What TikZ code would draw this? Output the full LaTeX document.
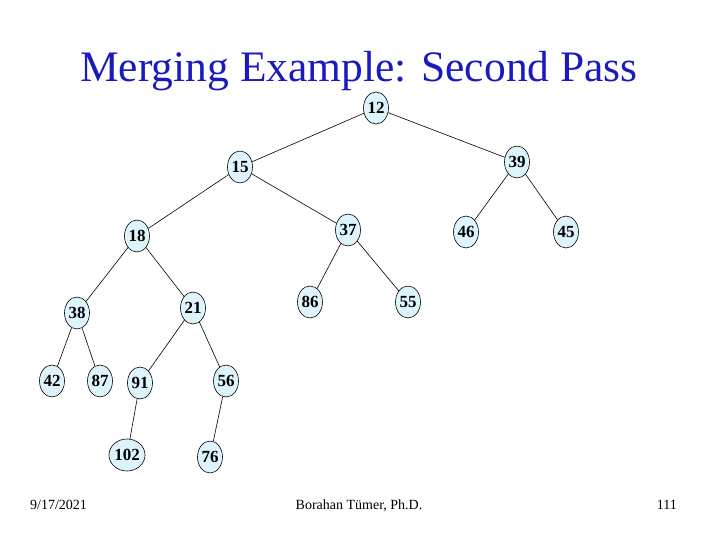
\documentclass[tikz,border=0pt]{standalone}
\usepackage{fontspec}
\setmainfont{Liberation Serif}
\usetikzlibrary{shapes.geometric}
\definecolor{titleblue}{RGB}{26,26,190}
\definecolor{nodefill}{RGB}{222,244,252}
\begin{document}
\begin{tikzpicture}[x=1pt,y=-1pt,
  hn/.style={ellipse,draw=black,fill=nodefill,line width=0.6pt,minimum width=25pt,minimum height=32pt,inner sep=0pt,font=\bfseries\fontsize{17}{17}\selectfont},
  ed/.style={draw=black,line width=0.6pt},
  foot/.style={font=\fontsize{14}{14}\selectfont,anchor=base,inner sep=0pt}]
\useasboundingbox (0,0) rectangle (720,540);
\node[font=\fontsize{43.5}{43.5}\selectfont,text=titleblue] (title) at (359,71) {Merging Example: Second Pass};
\node[hn] (n12) at (376,108) {12};
\node[hn] (n39) at (517,162) {39};
\node[hn] (n15) at (240,167) {15};
\node[hn] (n37) at (348,230) {37};
\node[hn] (n46) at (466,232) {46};
\node[hn] (n45) at (566,232) {45};
\node[hn] (n18) at (137,236) {18};
\node[hn] (n86) at (310,302) {86};
\node[hn] (n55) at (408,302) {55};
\node[hn] (n21) at (193,308) {21};
\node[hn] (n38) at (77,313) {38};
\node[hn] (n42) at (52,381) {42};
\node[hn] (n87) at (100,381) {87};
\node[hn] (n91) at (140,383) {91};
\node[hn] (n56) at (226,381) {56};
\node[hn] (n102) at (127,455) {102};
\node[hn] (n76) at (210,457) {76};
\foreach \a/\b in {n12/n15,n12/n39,n39/n46,n39/n45,n15/n18,n15/n37,n37/n86,n37/n55,n18/n38,n18/n21,n38/n42,n38/n87,n21/n91,n21/n56,n91/n102,n56/n76}
  \draw[ed] (\a) -- (\b);
\node[foot,anchor=base west] (date) at (30,509) {9/17/2021};
\node[foot] (author) at (359,509) {Borahan Tümer, Ph.D.};
\node[foot,anchor=base east] (page) at (677,509) {111};
\end{tikzpicture}
\end{document}
